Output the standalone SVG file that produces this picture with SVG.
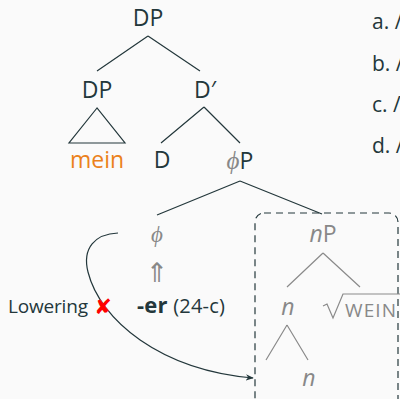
<svg xmlns="http://www.w3.org/2000/svg" width="400" height="399" viewBox="0 0 400 399">
<defs>
<style>
.t{font-family:"Open Sans","DejaVu Sans",sans-serif;fill:#23373b;font-weight:400}
.lbl{font-size:23px;text-anchor:middle}
.g{fill:#888888}
.ln{stroke:#23373b;stroke-width:1.2;fill:none}
.lg{stroke:#8a8a8a;stroke-width:1.2;fill:none}
.sm{font-size:19px}
.phi{font-family:"Liberation Serif","DejaVu Serif",serif;font-style:italic;font-weight:normal}
</style>
<marker id="ah" viewBox="0 0 10 10" refX="9" refY="5" markerWidth="8" markerHeight="8" markerUnits="userSpaceOnUse" orient="auto">
<path d="M0,1 L10,5 L0,9 L3,5 Z" fill="#23373b"/>
</marker>
</defs>
<rect width="400" height="399" fill="#fafafa"/>
<g id="connectors">
<path class="ln" d="M148,36 L97,71 M148,36 L200,71"/>
<path class="ln" d="M97,108 L69,143 L125,143 Z"/>
<path class="ln" d="M204,107 L161,143 M204,107 L240,143"/>
<path class="ln" d="M240,181 L157,215 M240,181 L322,214"/>
<path class="lg" d="M323,253 L287,287 M323,253 L360,287"/>
<path class="lg" d="M287,325 L266,360 M287,325 L308,360"/>
<path class="ln" d="M118,233 C95,234 82,248 88,272 C100,320 160,370 253,378" marker-end="url(#ah)"/>
</g>
<g id="n-dp"><text class="t lbl" x="148" y="26">DP</text></g>
<g id="n-dp2"><text class="t lbl" x="97" y="98">DP</text></g>
<g id="n-dbar"><text class="t lbl" x="205" y="98">D′</text></g>
<g id="n-mein"><text class="t lbl" x="97" y="168" style="fill:#eb811b">mein</text></g>
<g id="n-d"><text class="t lbl" x="162" y="168">D</text></g>
<g id="n-phip"><text class="t lbl" x="240" y="169"><tspan class="g phi" font-size="25">ϕ</tspan>P</text></g>
<g id="n-phi"><text class="t lbl g phi" x="157" y="242" font-size="25">ϕ</text></g>
<g id="n-arrow"><text class="t lbl g" x="157" y="282" style="font-family:'DejaVu Sans',sans-serif;font-size:27px;font-weight:normal">⇑</text></g>
<g id="n-er"><text class="t" x="137" y="313" font-size="20" textLength="88"><tspan font-weight="bold" font-size="22">-er</tspan> (24-c)</text></g>
<g id="n-lowering"><text class="t sm" x="8" y="313" textLength="80">Lowering</text><text x="103" y="314" text-anchor="middle" style="font-family:'DejaVu Sans',sans-serif;font-size:21px;fill:#ff0000">✘</text></g>
<g id="n-box"><rect x="255" y="213" width="143" height="200" rx="9" fill="none" stroke="#23373b" stroke-width="1.2" stroke-dasharray="7,5"/></g>
<g id="n-np"><text class="t lbl g" x="323" y="242"><tspan font-style="italic">n</tspan>P</text></g>
<g id="n-n1"><text class="t lbl g" x="288" y="315" font-style="italic">n</text></g>
<g id="n-wein"><path class="lg" d="M323,306 L327,304 L333,318 L343,294 L400,294"/><text class="t g" x="345" y="317" font-size="19" textLength="51">WEIN</text></g>
<g id="n-n2"><text class="t lbl g" x="309" y="386" font-style="italic">n</text></g>
<g id="list">
<text class="t" x="372" y="29" font-size="21">a. /</text>
<text class="t" x="372" y="71" font-size="21">b. /</text>
<text class="t" x="372" y="112" font-size="21">c. /</text>
<text class="t" x="372" y="153" font-size="21">d. /</text>
</g>
</svg>
